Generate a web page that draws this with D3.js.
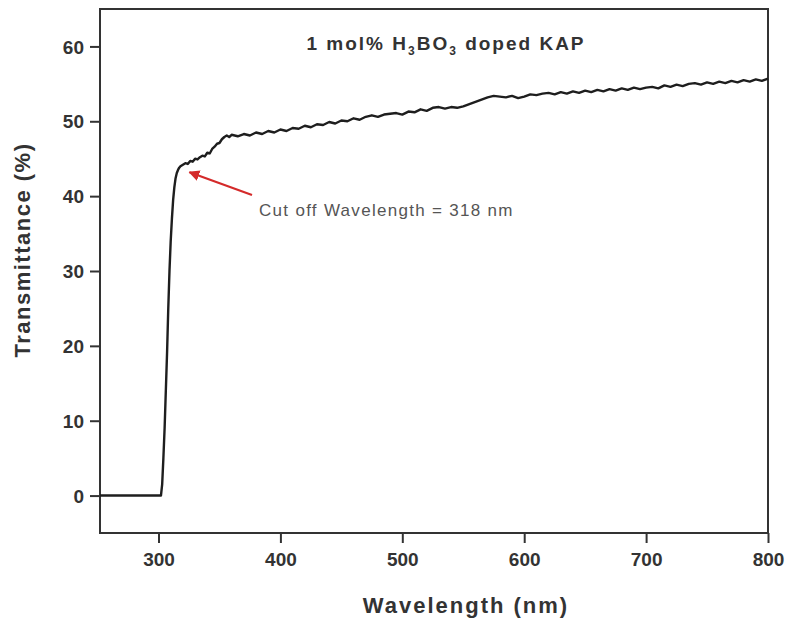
<!DOCTYPE html>
<html>
<head>
<meta charset="utf-8">
<script src="https://cdn.jsdelivr.net/npm/d3@7"></script>
<style>
  html, body { margin: 0; padding: 0; background: #fff; }
  svg { display: block; }
</style>
</head>
<body>
<svg id="chart" width="789" height="624"></svg>
<script>
// ---- Data ----
const wavelength = [
  252, 260, 270, 280, 290, 300, 302, 303, 304, 305, 306, 307, 308, 309, 310,
  311, 312, 313, 314, 315, 316, 317, 318, 320, 322, 324, 326, 328, 330, 332,
  334, 336, 338, 340, 342, 344, 346, 348, 350, 352, 354, 356, 358, 360, 365,
  370, 375, 380, 385, 390, 395, 400, 405, 410, 415, 420, 425, 430, 435, 440,
  445, 450, 455, 460, 465, 470, 475, 480, 485, 490, 495, 500, 505, 510, 515,
  520, 525, 530, 535, 540, 545, 550, 555, 560, 565, 570, 575, 580, 585, 590,
  595, 600, 605, 610, 615, 620, 625, 630, 635, 640, 645, 650, 655, 660, 665,
  670, 675, 680, 685, 690, 695, 700, 705, 710, 715, 720, 725, 730, 735, 740,
  745, 750, 755, 760, 765, 770, 775, 780, 785, 790, 795, 800
];
const transmittance = [
  0, 0, 0, 0, 0, 0, 0, 1.5, 5, 9, 14, 19, 25, 30, 34,
  37, 39.5, 41.2, 42.4, 43.1, 43.5, 43.8, 44.0, 44.2, 44.4, 44.3, 44.7, 44.6, 45.0, 44.9,
  45.2, 45.4, 45.3, 45.8, 45.7, 46.3, 46.6, 47.0, 47.1, 47.6, 47.9, 48.1, 47.9, 48.2, 48.0,
  48.3, 48.1, 48.5, 48.3, 48.7, 48.5, 48.9, 48.7, 49.1, 49.0, 49.4, 49.2, 49.6, 49.5, 49.9,
  49.7, 50.1, 50.0, 50.4, 50.2, 50.6, 50.8, 50.6, 50.9, 51.0, 51.1, 50.9, 51.3, 51.2, 51.6,
  51.4, 51.8, 51.9, 51.7, 51.9, 51.8, 52.0, 52.3, 52.6, 52.9, 53.2, 53.4, 53.3, 53.2, 53.4,
  53.1, 53.3, 53.6, 53.5, 53.7, 53.8, 53.6, 53.9, 53.7, 54.0, 53.8, 54.1, 53.9, 54.2, 54.0,
  54.3, 54.1, 54.4, 54.2, 54.5, 54.3, 54.5, 54.6, 54.4, 54.8, 54.6, 54.9, 54.7, 55.0, 55.1,
  54.9, 55.2, 55.0, 55.3, 55.1, 55.4, 55.2, 55.5, 55.3, 55.6, 55.4, 55.7
];
const xTicks = [300, 400, 500, 600, 700, 800];
const yTicks = [0, 10, 20, 30, 40, 50, 60];
const xDomain = [252, 800];
const yDomain = [-5, 65];
const titleParts = ["1 mol% H", "3", "BO", "3", " doped KAP"];
const xLabel = "Wavelength (nm)";
const yLabel = "Transmittance (%)";
const annotationText = "Cut off Wavelength = 318 nm";
const cutoff = { wavelength: 318, value: 44.0 };

// ---- Layout ----
const mLeft = 100, mRight = 768, mTop = 9, mBottom = 533;
const svg = d3.select("#chart");
const font = "'Liberation Sans', Arial, sans-serif";
const axisColor = "#333";

const x = d3.scaleLinear().domain(xDomain).range([mLeft, mRight]);
const y = d3.scaleLinear().domain(yDomain).range([mBottom, mTop]);

// Frame
svg.append("rect")
  .attr("x", mLeft).attr("y", mTop)
  .attr("width", mRight - mLeft).attr("height", mBottom - mTop)
  .attr("fill", "none").attr("stroke", axisColor).attr("stroke-width", 2);

// Axes
const xAxis = svg.append("g")
  .attr("transform", `translate(0,${mBottom})`)
  .call(d3.axisBottom(x).tickValues(xTicks).tickSize(10).tickPadding(10).tickSizeOuter(0));
const yAxis = svg.append("g")
  .attr("transform", `translate(${mLeft},0)`)
  .call(d3.axisLeft(y).tickValues(yTicks).tickSize(10).tickPadding(6).tickSizeOuter(0));

[xAxis, yAxis].forEach(g => {
  g.select(".domain").remove();
  g.selectAll(".tick line").attr("stroke", axisColor).attr("stroke-width", 2);
  g.selectAll(".tick text")
    .attr("fill", "#333")
    .style("font-family", font)
    .style("font-weight", "bold")
    .style("font-size", "19px");
});
yAxis.selectAll(".tick text").attr("dy", "0.35em");

// Curve
const pts = wavelength.map((w, i) => [w, transmittance[i]]);
const line = d3.line().x(d => x(d[0])).y(d => y(d[1]));
svg.append("path")
  .datum(pts)
  .attr("d", line)
  .attr("fill", "none")
  .attr("stroke", "#1e1e1e")
  .attr("stroke-width", 2.4)
  .attr("stroke-linejoin", "round");

// Title
const title = svg.append("text")
  .attr("x", 446).attr("y", 50)
  .attr("text-anchor", "middle")
  .attr("fill", "#333")
  .style("font-family", font)
  .style("font-weight", "bold")
  .style("font-size", "19px")
  .style("letter-spacing", "2px");
titleParts.forEach((p, i) => {
  const t = title.append("tspan").text(p);
  if (i === 1 || i === 3) t.attr("dy", 5).style("font-size", "12px");
  else if (i > 0) t.attr("dy", -5);
});

// Annotation arrow
const defs = svg.append("defs");
defs.append("marker")
  .attr("id", "arrowhead")
  .attr("viewBox", "0 0 10 10")
  .attr("refX", 9).attr("refY", 5)
  .attr("markerWidth", 5).attr("markerHeight", 5)
  .attr("orient", "auto")
  .append("path").attr("d", "M0,0 L10,5 L0,10 z").attr("fill", "#d42a2a");

svg.append("line")
  .attr("x1", 252).attr("y1", 195)
  .attr("x2", x(cutoff.wavelength) + 9).attr("y2", y(cutoff.value) + 6)
  .attr("stroke", "#d42a2a").attr("stroke-width", 2.2)
  .attr("marker-end", "url(#arrowhead)");

svg.append("text")
  .attr("x", 259).attr("y", 216)
  .attr("fill", "#555")
  .style("font-family", font)
  .style("font-size", "17px")
  .style("letter-spacing", "1.3px")
  .text(annotationText);

// Axis labels
svg.append("text")
  .attr("x", 466).attr("y", 613)
  .attr("text-anchor", "middle")
  .attr("fill", "#333")
  .style("font-family", font)
  .style("font-weight", "bold")
  .style("font-size", "22px")
  .style("letter-spacing", "2px")
  .text(xLabel);

svg.append("text")
  .attr("transform", `translate(30,250) rotate(-90)`)
  .attr("text-anchor", "middle")
  .attr("fill", "#333")
  .style("font-family", font)
  .style("font-weight", "bold")
  .style("font-size", "22px")
  .style("letter-spacing", "1.5px")
  .text(yLabel);
</script>
</body>
</html>
